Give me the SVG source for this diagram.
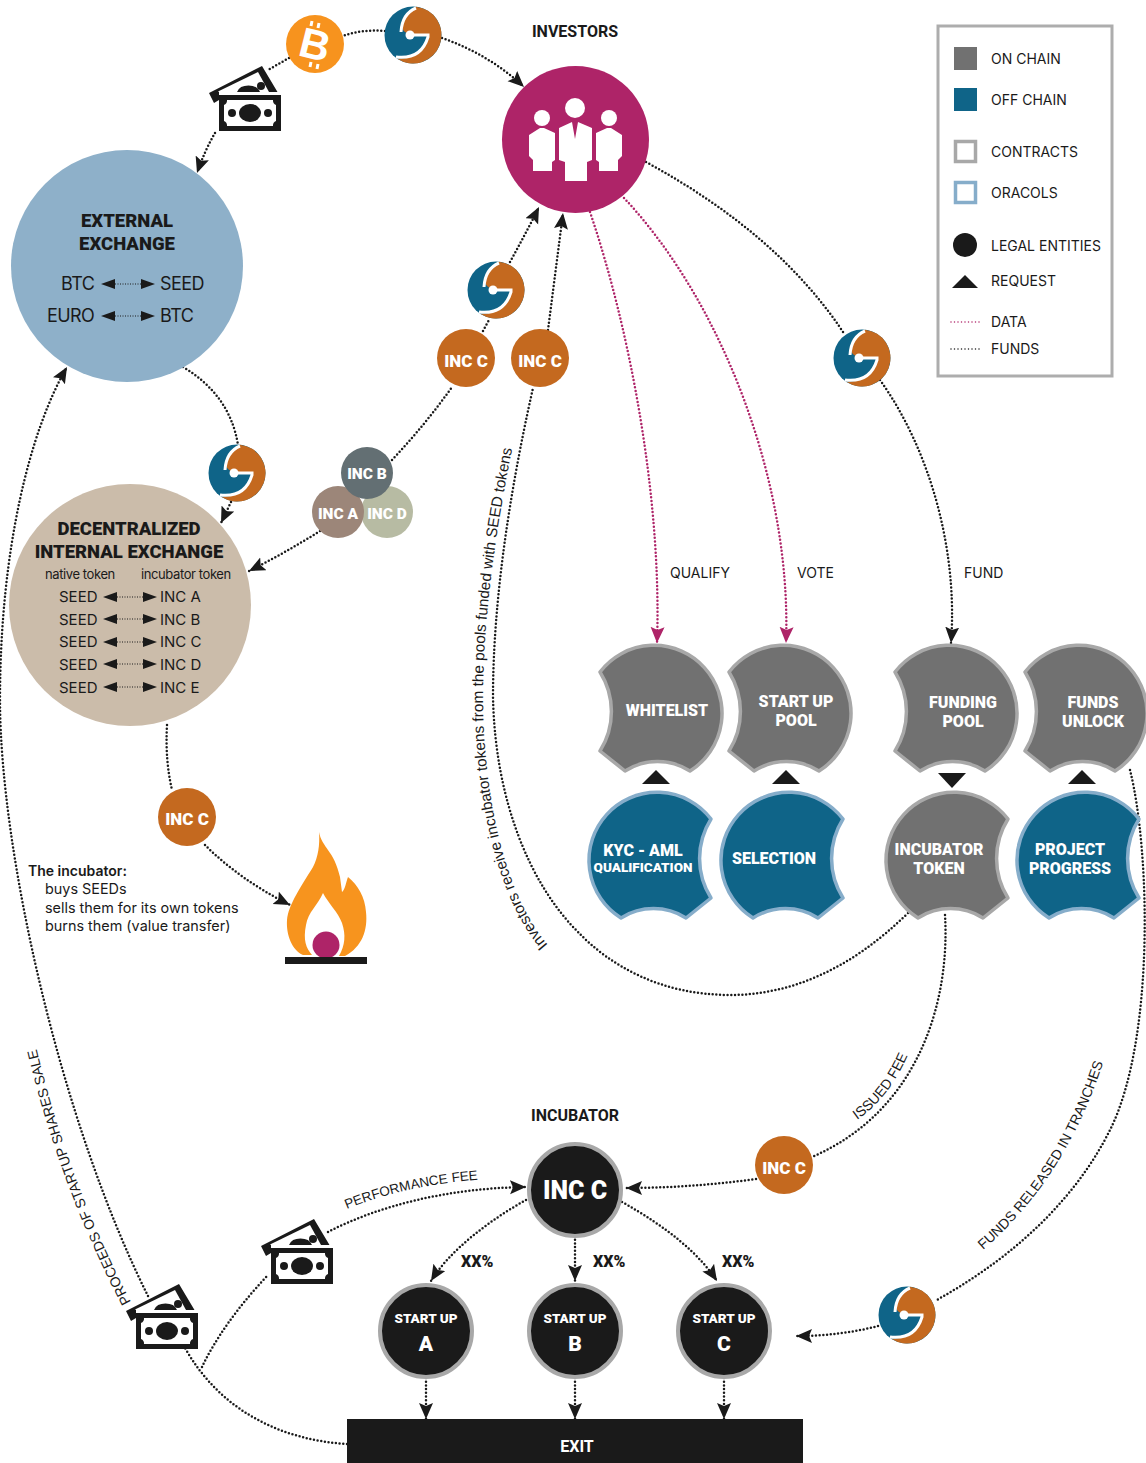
<svg xmlns="http://www.w3.org/2000/svg" xmlns:xlink="http://www.w3.org/1999/xlink" width="1146" height="1463" viewBox="0 0 1146 1463">
<style>
text{font-family:"Inter","Liberation Sans",sans-serif;fill:#1a1a1a;font-size:14px}
.h{font-family:"Roboto","Liberation Sans",sans-serif;font-weight:900;fill:#fff;text-anchor:middle;font-size:16px}
.hd{font-family:"Roboto","Liberation Sans",sans-serif;font-weight:900;fill:#1a1a1a;text-anchor:middle;font-size:18.500px}
.s{font-family:"Liberation Sans",sans-serif;font-size:14px}
.t{font-size:18px;letter-spacing:-.6px}
.on{fill:#717171;stroke:#a8a8a8;stroke-width:3.5;stroke-linejoin:round}
.off{fill:#0f6488;stroke:#86adca;stroke-width:3.5;stroke-linejoin:round}
.f{fill:none;stroke:#1a1a1a;stroke-width:2.500;stroke-linecap:round;stroke-dasharray:0 3.700}
.d{fill:none;stroke:#ae2468;stroke-width:2.500;stroke-linecap:round;stroke-dasharray:0 3.700}
.inc{fill:#c4691f}
.ent{fill:#1a1a1a;stroke:#a8a8a8;stroke-width:4}
.tiny{fill:none;stroke:#1a1a1a;stroke-width:1;stroke-dasharray:1 1.5}
.ic{font-size:17px}
.x{font-family:Roboto,sans-serif;font-weight:900;font-size:16px}
</style>
<defs>
<marker id="a" markerUnits="userSpaceOnUse" markerWidth="18" markerHeight="16" refX="16" refY="7" orient="auto"><path d="M0,0 L16,7 L0,14 L3,7 Z" fill="#1a1a1a"/></marker>
<marker id="m" markerUnits="userSpaceOnUse" markerWidth="18" markerHeight="16" refX="16" refY="7" orient="auto"><path d="M0,0 L16,7 L0,14 L3,7 Z" fill="#ae2468"/></marker>
<path id="cres" d="M-60,-35 A68,68 0 1 1 30,64 A61,61 0 0 0 -35,64 L-60,44 A74,74 0 0 0 -60,-35 Z"/>
<g id="logo">
<circle r="28.500" fill="#0f6488"/>
<path d="M3,-28.300 A28.500,28.500 0 1 1 -16,23.600 Q8,25 15,2 L15,-1 L-3,-1 Q-13,-3 -10,-12 Q-6,-24 3,-28.300 Z" fill="#c4691f"/>
<path d="M3,-27 Q-11,-21 -12,-3 M-17,22 Q8,25 15,2 L15,0 L-3,0" fill="none" stroke="#fff" stroke-width="3"/>
<circle cx="-3" r="4.500" fill="#fff"/>
</g>
<g id="money">
<path d="M-10,-2 L43,-29 L58.500,-3 L0,-3 L0,5 L-5,8 Z" fill="#1a1a1a"/>
<path d="M0,-3 L-1,-3.500 L39,-23 L50,-3 Z" fill="#fff"/>
<path d="M18,-3 A12,9 0 0 1 41,-3 Z" fill="#1a1a1a"/>
<circle cx="42" cy="-9" r="4" fill="#1a1a1a"/>
<rect width="62" height="36" fill="#1a1a1a"/>
<path d="M8,5 H54 A5,5 0 0 0 57,10 V26 A5,5 0 0 0 54,31 H8 A5,5 0 0 0 5,26 V10 A5,5 0 0 0 8,5 Z" fill="#fff"/>
<ellipse cx="31" cy="18" rx="11" ry="9" fill="#1a1a1a"/>
<circle cx="13" cy="18" r="4" fill="#1a1a1a"/>
<circle cx="49" cy="18" r="4" fill="#1a1a1a"/>
</g>
<g id="lr"><path d="M-27,0 L-13,-5 V5 Z M27,0 L13,-5 V5 Z" fill="#1a1a1a"/><path d="M-13,0 H13" class="tiny"/></g>
</defs>

<g id="connectors">
<path class="f" marker-end="url(#a)" d="M442,38 Q490,55 524,87"/>
<path class="f" d="M385,31 Q362,29 343,36"/>
<path class="f" d="M289,58 L268,70"/>
<path class="f" marker-end="url(#a)" d="M215,133 Q205,150 197,173"/>
<path class="f" d="M183,367 Q230,395 238,445"/>
<path class="f" marker-end="url(#a)" d="M231,502 L221,523"/>
<path class="f" marker-end="url(#a)" d="M320,531 Q285,553 249,571"/>
<path class="f" d="M392,460 Q425,425 452,387"/>
<path class="f" d="M483,331 L490,318"/>
<path class="f" marker-end="url(#a)" d="M510,262 Q525,235 539,207"/>
<path class="f" d="M908,913 C850,970 790,995 730,995 C660,995 610,965 579,933 C530,885 495,800 493,697 C493,600 510,490 533,388"/>
<path class="f" marker-end="url(#a)" d="M548,330 L563,213"/>
<path class="d" marker-end="url(#m)" d="M590,212 C630,330 662,500 657,643"/>
<path class="d" marker-end="url(#m)" d="M624,198 C720,300 792,480 786,643"/>
<path class="f" d="M646,162 Q780,235 845,335"/>
<path class="f" marker-end="url(#a)" d="M880,380 C930,450 958,550 951,643"/>
<path class="f" d="M167,725 Q165,760 172,790"/>
<path class="f" marker-end="url(#a)" d="M205,845 Q240,880 290,905"/>
<path class="f" d="M945,915 C950,1000 920,1110 812,1157"/>
<path class="f" marker-end="url(#a)" d="M756,1179 Q690,1188 626,1188"/>
<path class="f" d="M1130,770 C1150,850 1155,1040 1110,1130 C1070,1210 1000,1265 935,1301"/>
<path class="f" marker-end="url(#a)" d="M878,1326 Q840,1336 796,1336"/>
<path class="f" d="M347,1444 C280,1440 220,1410 185,1348"/>
<path class="f" d="M202,1367 C215,1340 235,1310 268,1275"/>
<path class="f" marker-end="url(#a)" d="M328,1232 C380,1205 450,1188 526,1187"/>
<path class="f" marker-end="url(#a)" d="M148,1296 C60,1120 0,850 0,700 C0,550 30,430 67,367"/>
<path class="f" marker-end="url(#a)" d="M526,1200 C490,1220 450,1250 431,1281"/>
<path class="f" marker-end="url(#a)" d="M575,1236 L575,1281"/>
<path class="f" marker-end="url(#a)" d="M622,1202 Q690,1240 717,1281"/>
<path class="f" marker-end="url(#a)" d="M426,1378 L426,1419"/>
<path class="f" marker-end="url(#a)" d="M575,1378 L575,1419"/>
<path class="f" marker-end="url(#a)" d="M724,1378 L724,1419"/>
</g>

<g id="connector-labels">
<path id="p1" d="M548,945 C505,895 484,800 483,700 C483,620 495,530 516,430" fill="none"/>
<text class="s" style="font-size:15.300px"><textPath xlink:href="#p1" href="#p1">Investors receive incubator tokens from the pools funded with SEED tokens</textPath></text>
<path id="p2" d="M131,1302 Q62,1170 30,1020" fill="none"/>
<text class="s"><textPath xlink:href="#p2" href="#p2">PROCEEDS OF STARTUP SHARES SALE</textPath></text>
<path id="p3" d="M983,1250 Q1070,1175 1107,1050" fill="none"/>
<text class="s"><textPath xlink:href="#p3" href="#p3">FUNDS RELEASED IN TRANCHES</textPath></text>
<path id="p4" d="M857,1120 Q893,1095 912,1045" fill="none"/>
<text class="s"><textPath xlink:href="#p4" href="#p4">ISSUED FEE</textPath></text>
<path id="p5" d="M347,1209 Q410,1183 500,1178" fill="none"/>
<text class="s" style="font-size:13.500px"><textPath xlink:href="#p5" href="#p5">PERFORMANCE FEE</textPath></text>
<text x="670" y="578">QUALIFY</text>
<text x="797" y="578">VOTE</text>
<text x="964" y="578">FUND</text>
<text class="x" x="461" y="1267">XX%</text>
<text class="x" x="593" y="1267">XX%</text>
<text class="x" x="722" y="1267">XX%</text>
</g>

<g id="investors">
<text x="575" y="37" style="font-family:Roboto,sans-serif;font-weight:700;text-anchor:middle;font-size:16px">INVESTORS</text>
<circle cx="575.500" cy="139.500" r="73.500" fill="#ae2468"/>
<g fill="#fff">
<circle cx="575" cy="108" r="10"/>
<path d="M559,128 L572,122 L575,139 L578,122 L592,128 V160 L587,162 V181 H565 V162 L559,160 Z"/>
<circle cx="542" cy="118" r="8"/>
<path d="M529,135 L540,128 H544 L555,133 V160 L552,162 V171 H533 V160 L529,156 Z"/>
<circle cx="609" cy="118" r="8"/>
<path d="M622,135 L611,128 H607 L596,133 V160 L599,162 V171 H618 V160 L622,156 Z"/>
</g>
</g>

<g id="logo-top"><use href="#logo" x="413" y="35"/></g>
<g id="bitcoin"><circle cx="315" cy="44" r="29" fill="#f7931e"/>
<text x="315" y="59" style="font-family:'Liberation Sans',sans-serif;font-weight:700;font-size:42px;fill:#fff;text-anchor:middle" transform="rotate(14 315 44)">B</text>
<path d="M312,21 l-1,5 M319,23 l-1,5 M311,62 l-1,5 M318,64 l-1,5" stroke="#fff" stroke-width="3"/></g>
<g id="money-top"><use href="#money" x="219" y="95"/></g>

<g id="external-exchange">
<circle cx="127" cy="266" r="116" fill="#8eb0c9"/>
<text class="hd" x="127" y="227">EXTERNAL</text>
<text class="hd" x="127" y="250">EXCHANGE</text>
<text class="t" x="61" y="290">BTC</text><text class="t" x="160" y="290">SEED</text>
<text class="t" x="47" y="322">EURO</text><text class="t" x="160" y="322">BTC</text>
<use href="#lr" x="128" y="284"/><use href="#lr" x="128" y="316"/>
</g>

<g id="logo-exchange"><use href="#logo" x="237" y="473"/></g>

<g id="internal-exchange">
<circle cx="130" cy="605" r="121" fill="#cbbcaa"/>
<text class="hd" x="129" y="535">DECENTRALIZED</text>
<text class="hd" x="129" y="558">INTERNAL EXCHANGE</text>
<text x="45" y="579" style="font-size:13px;letter-spacing:-.4px">native token</text>
<text x="141" y="579" style="font-size:13px;letter-spacing:-.4px">incubator token</text>
<g>
<text x="59" y="602" style="font-size:15px">SEED</text><text x="160" y="602" style="font-size:15px">INC A</text>
<text x="59" y="625" style="font-size:15px">SEED</text><text x="160" y="625" style="font-size:15px">INC B</text>
<text x="59" y="647" style="font-size:15px">SEED</text><text x="160" y="647" style="font-size:15px">INC C</text>
<text x="59" y="670" style="font-size:15px">SEED</text><text x="160" y="670" style="font-size:15px">INC D</text>
<text x="59" y="693" style="font-size:15px">SEED</text><text x="160" y="693" style="font-size:15px">INC E</text>
</g>
<use href="#lr" x="130" y="597"/><use href="#lr" x="130" y="619"/><use href="#lr" x="130" y="642"/><use href="#lr" x="130" y="664"/><use href="#lr" x="130" y="687"/>
</g>

<g id="inc-group">
<circle cx="387" cy="512" r="26" fill="#b7bba3"/>
<circle cx="338" cy="512" r="26" fill="#9c8679"/>
<circle cx="367" cy="473" r="26" fill="#636f73"/>
<text class="h" x="367" y="479" style="font-size:15.500px">INC B</text>
<text class="h" x="338" y="519" style="font-size:15.500px">INC A</text>
<text class="h" x="387" y="519" style="font-size:15.500px">INC D</text>
</g>
<g id="logo-inc"><use href="#logo" x="496" y="290"/></g>
<g id="inc-c-1"><circle class="inc" cx="466" cy="358" r="29"/><text class="h ic" x="466" y="367">INC C</text></g>
<g id="inc-c-2"><circle class="inc" cx="540" cy="358" r="29"/><text class="h ic" x="540" y="367">INC C</text></g>
<g id="inc-c-3"><circle class="inc" cx="187" cy="817" r="29"/><text class="h ic" x="187" y="825">INC C</text></g>
<g id="inc-c-4"><circle class="inc" cx="784" cy="1165" r="29"/><text class="h ic" x="784" y="1174">INC C</text></g>
<g id="logo-fund"><use href="#logo" x="862" y="358"/></g>

<g id="burn">
<path d="M319,832 C322,848 334,850 340,877 L342,892 C345,890 346,882 348,877 C358,885 365,897 366,912 C368,930 362,947 345,956 H339 C345,945 346,935 342,923 C338,912 328,903 323,893 C318,905 308,912 306,925 C303,940 306,948 312,955 H303 C292,950 286,935 287,920 C288,905 302,885 313,867 C318,857 320,845 319,832 Z" fill="#f7941e"/>
<circle cx="326" cy="945" r="13.500" fill="#ae2468"/>
<rect x="285" y="957" width="82" height="7" fill="#1a1a1a"/>
</g>
<g id="burn-note">
<text x="28" y="876" style="font-weight:600">The incubator:</text>
<text x="45" y="894" style="font-size:14.400px">buys SEEDs</text>
<text x="45" y="913" style="font-size:14.400px">sells them for its own tokens</text>
<text x="45" y="931" style="font-size:14.400px">burns them (value transfer)</text>
</g>

<g id="whitelist"><use href="#cres" class="on" x="660" y="707"/><text class="h" x="667" y="716">WHITELIST</text></g>
<g id="startup-pool"><use href="#cres" class="on" x="789" y="707"/><text class="h" x="796" y="707">START UP</text><text class="h" x="796" y="726">POOL</text></g>
<g id="funding-pool"><use href="#cres" class="on" x="955" y="707"/><text class="h" x="963" y="708">FUNDING</text><text class="h" x="963" y="727">POOL</text></g>
<g id="funds-unlock"><use href="#cres" class="on" x="1085" y="707"/><text class="h" x="1093" y="708">FUNDS</text><text class="h" x="1093" y="727">UNLOCK</text></g>
<g id="kyc"><use href="#cres" class="off" transform="translate(651,854) scale(-1,1)"/><text class="h" x="643" y="856">KYC - AML</text><text class="h" x="643" y="872" style="font-size:13.500px">QUALIFICATION</text></g>
<g id="selection"><use href="#cres" class="off" transform="translate(783,854) scale(-1,1)"/><text class="h" x="774" y="864">SELECTION</text></g>
<g id="incubator-token"><use href="#cres" class="on" transform="translate(948,854) scale(-1,1)"/><text class="h" x="939" y="855">INCUBATOR</text><text class="h" x="939" y="874">TOKEN</text></g>
<g id="project-progress"><use href="#cres" class="off" transform="translate(1079,854) scale(-1,1)"/><text class="h" x="1070" y="855">PROJECT</text><text class="h" x="1070" y="874">PROGRESS</text></g>
<g id="requests" fill="#1a1a1a">
<path d="M642,784 L656,770 L670,784 Z"/>
<path d="M772,784 L786,770 L800,784 Z"/>
<path d="M938,773 L966,773 L952,788 Z"/>
<path d="M1068,784 L1082,770 L1096,784 Z"/>
</g>

<g id="legend">
<rect x="938" y="26" width="174" height="350" fill="#fff" stroke="#adadad" stroke-width="3"/>
<rect x="954" y="47" width="23" height="23" fill="#717171"/>
<rect x="954" y="88" width="23" height="23" fill="#0f6488"/>
<rect x="955.500" y="141.500" width="20" height="20" fill="#fff" stroke="#a8a8a8" stroke-width="3.500"/>
<rect x="955.500" y="182.500" width="20" height="20" fill="#fff" stroke="#86adca" stroke-width="3.500"/>
<circle cx="965" cy="245" r="12" fill="#1a1a1a"/>
<path d="M952,288 L965,275 L978,288 Z" fill="#1a1a1a"/>
<path d="M951,322 H981" class="d" style="stroke-width:1.500;stroke-dasharray:0 3.500"/>
<path d="M951,349 H981" class="f" style="stroke-width:1.500;stroke-dasharray:0 3.500"/>
<text x="991" y="64">ON CHAIN</text>
<text x="991" y="105">OFF CHAIN</text>
<text x="991" y="157">CONTRACTS</text>
<text x="991" y="198">ORACOLS</text>
<text x="991" y="251">LEGAL ENTITIES</text>
<text x="991" y="286">REQUEST</text>
<text x="991" y="327">DATA</text>
<text x="991" y="354">FUNDS</text>
</g>

<g id="incubator">
<text x="575" y="1121" style="font-family:Roboto,sans-serif;font-weight:700;text-anchor:middle;font-size:16px">INCUBATOR</text>
<circle class="ent" cx="575" cy="1190" r="46"/>
<text class="h" x="575" y="1199" style="font-size:25px">INC C</text>
</g>
<g id="logo-funds"><use href="#logo" x="907" y="1315"/></g>
<g id="money-performance"><use href="#money" x="271" y="1248"/></g>
<g id="money-proceeds"><use href="#money" x="136" y="1313"/></g>
<g id="startup-a"><circle class="ent" cx="426" cy="1331" r="46"/><text class="h" x="426" y="1323" style="font-size:13.500px">START UP</text><text class="h" x="426" y="1351" style="font-size:21px">A</text></g>
<g id="startup-b"><circle class="ent" cx="575" cy="1331" r="46"/><text class="h" x="575" y="1323" style="font-size:13.500px">START UP</text><text class="h" x="575" y="1351" style="font-size:21px">B</text></g>
<g id="startup-c"><circle class="ent" cx="724" cy="1331" r="46"/><text class="h" x="724" y="1323" style="font-size:13.500px">START UP</text><text class="h" x="724" y="1351" style="font-size:21px">C</text></g>
<g id="exit"><rect x="347" y="1419" width="456" height="44" fill="#1a1a1a"/><text class="h" x="577" y="1452" style="font-size:16px;font-weight:700">EXIT</text></g>
</svg>
